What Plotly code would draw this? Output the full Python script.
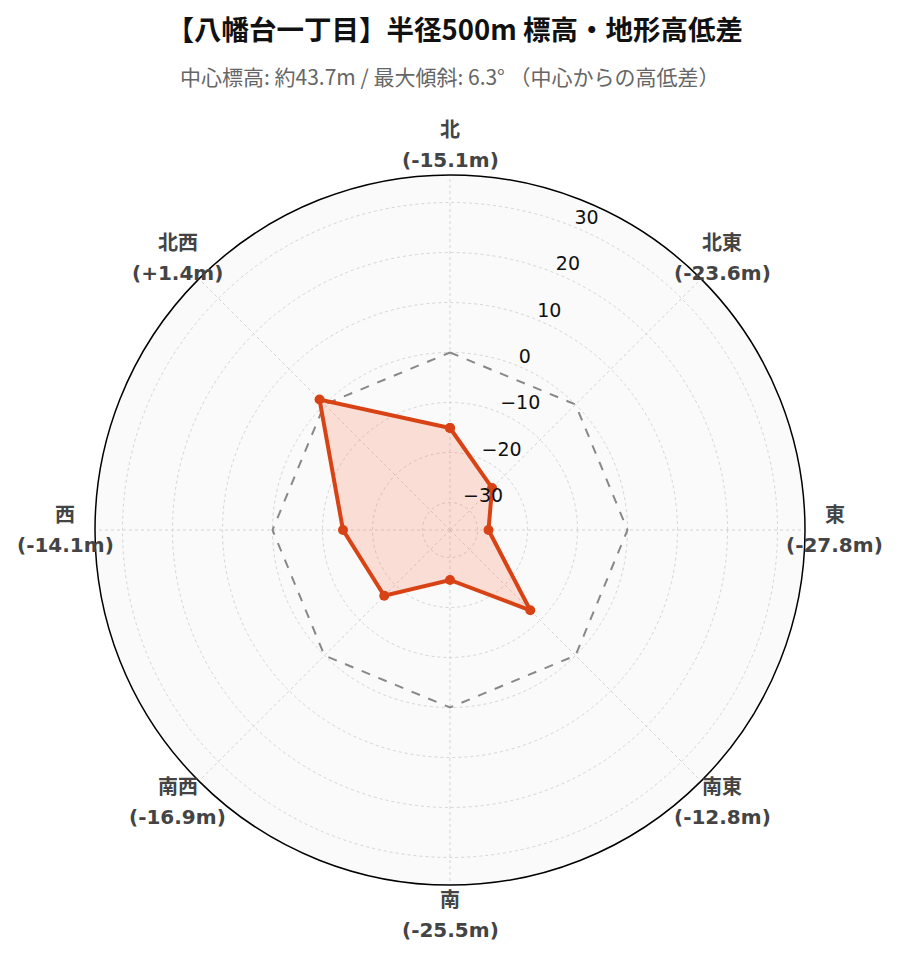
import math
import plotly.graph_objects as go

directions = ["北", "北東", "東", "南東", "南", "南西", "西", "北西"]
angles_deg = [0, 45, 90, 135, 180, 225, 270, 315]
diffs = [-15.1, -23.6, -27.8, -12.8, -25.5, -16.9, -14.1, 1.4]
zero_ref = [0, 0, 0, 0, 0, 0, 0, 0]
radial_ticks = [-30, -20, -10, 0, 10, 20, 30]
radial_range = [-35.5, 35.5]

# layout geometry (pixels)
W, H = 899, 962
M_L, M_R, M_T, M_B = 80, 95, 167, 85
PW, PH = W - M_L - M_R, H - M_T - M_B
R_PX = PH / 2
LABEL_DIST = R_PX + 30
LINE_GAP = 15

theta = angles_deg + [angles_deg[0]]

fig = go.Figure()
fig.add_trace(go.Scatterpolar(
    r=zero_ref + [zero_ref[0]], theta=theta, mode="lines",
    line=dict(color="#888888", width=2, dash="dash"),
    hoverinfo="skip", showlegend=False,
))
fig.add_trace(go.Scatterpolar(
    r=diffs + [diffs[0]], theta=theta, mode="lines+markers",
    line=dict(color="#D84315", width=4),
    marker=dict(color="#D84315", size=10),
    fill="toself", fillcolor="rgba(255,87,34,0.165)",
    showlegend=False,
))
# radial tick labels, drawn horizontally beside the radial axis line
fig.add_trace(go.Scatterpolar(
    r=[t + 1.5 for t in radial_ticks], theta=[21.8] * len(radial_ticks),
    mode="text", text=[f"{t}".replace("-", "\u2212") for t in radial_ticks],
    textposition="middle right",
    textfont=dict(family="DejaVu Sans", size=19, color="#111"),
    hoverinfo="skip", showlegend=False, cliponaxis=False,
))

annotations = [dict(
    text="中心標高: 約43.7m / 最大傾斜: 6.3° （中心からの高低差）",
    xref="paper", yref="paper", x=0.5, y=(H - M_B - 68) / PH,
    xanchor="center", yanchor="middle", showarrow=False,
    font=dict(family="Noto Sans CJK JP", size=21, color="#666"),
)]
for name, ang, v in zip(directions, angles_deg, diffs):
    a = math.radians(ang)
    dx = LABEL_DIST * math.sin(a)
    dy = LABEL_DIST * math.cos(a)
    for line_text, off in ((f"<b>{name}</b>", LINE_GAP), (f"<b>({v:+.1f}m)</b>", -LINE_GAP)):
        annotations.append(dict(
            text=line_text, xref="paper", yref="paper",
            x=0.5 + dx / PW, y=0.5 + (dy + off) / PH,
            xanchor="center", yanchor="middle", showarrow=False,
            font=dict(family="DejaVu Sans, Noto Sans CJK JP", size=20, color="#444"),
        ))

fig.update_layout(
    width=W, height=H,
    margin=dict(l=M_L, r=M_R, t=M_T, b=M_B),
    paper_bgcolor="white",
    font=dict(family="DejaVu Sans, Noto Sans CJK JP, sans-serif", color="#222"),
    title=dict(
        text="<b>【八幡台一丁目】半径500m 標高・地形高低差</b>",
        x=0.497, xanchor="center", y=1 - 22 / H, yanchor="middle",
        font=dict(family="Noto Sans CJK JP", size=27.5, color="#111"),
    ),
    annotations=annotations,
    polar=dict(
        bgcolor="#fafafa",
        radialaxis=dict(
            range=radial_range, tickvals=radial_ticks, angle=67.5,
            showline=False, ticks="", showticklabels=False,
            gridcolor="#d5d5d5", griddash="dot", gridwidth=1,
        ),
        angularaxis=dict(
            rotation=90, direction="clockwise",
            tickmode="array", tickvals=angles_deg, showticklabels=False,
            showline=True, linecolor="black", linewidth=1.5,
            gridcolor="#d5d5d5", griddash="dot", ticks="",
        ),
    ),
)

fig.write_html("out.html")
